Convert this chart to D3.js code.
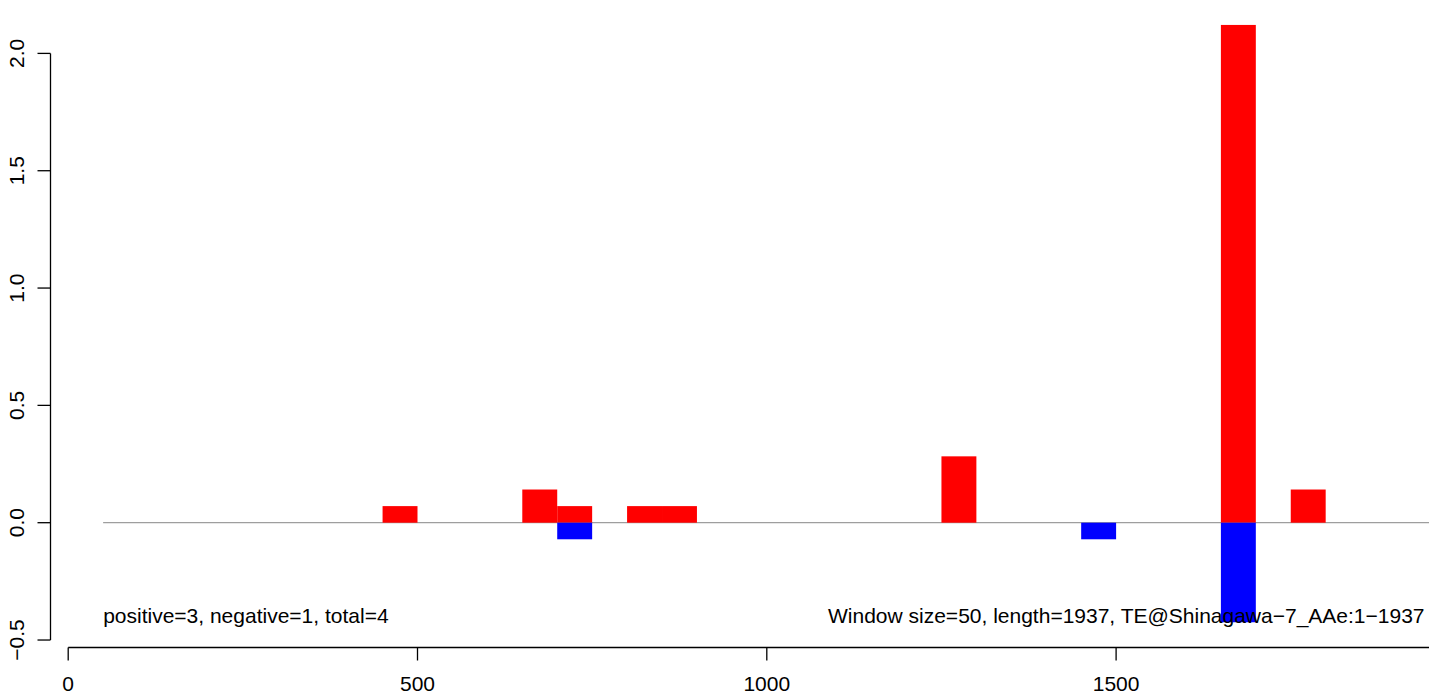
<!DOCTYPE html>
<html>
<head>
<meta charset="utf-8">
<script src="https://cdn.jsdelivr.net/npm/d3@7"></script>
<style>
  html, body { margin: 0; padding: 0; background: #fff; }
  svg { display: block; font-family: "Liberation Sans", Arial, Helvetica, sans-serif; }
</style>
</head>
<body>
<svg id="chart" width="1429" height="692"></svg>
<script>
// Window bins (start position), window size 50
const binStarts = [450, 650, 700, 800, 850, 1250, 1450, 1650, 1750];
const positiveValues = [0.0707, 0.1414, 0.0707, 0.0707, 0.0707, 0.2828, 0, 2.1213, 0.1414];
const negativeValues = [0, 0, -0.0707, 0, 0, 0, -0.0707, -0.4243, 0];
const windowSize = 50;
const seqLength = 1937;
const xTicks = [0, 500, 1000, 1500, 2000];
const yTicks = [-0.5, 0.0, 0.5, 1.0, 1.5, 2.0];
const leftNote = "positive=3, negative=1, total=4";
const rightNote = "Window size=50, length=1937, TE@Shinagawa\u22127_AAe:1\u22121937";

const svg = d3.select("#chart");

const x = d3.scaleLinear().domain([0, 500]).range([68.2, 417.5]);
const y = d3.scaleLinear().domain([0, 2]).range([522.7, 53.4]);

const fmtY = d => (d < 0 ? "\u2212" : "") + Math.abs(d).toFixed(1);
const FS = 21;

// zero line
svg.append("line")
  .attr("x1", x(50)).attr("x2", x(1960))
  .attr("y1", y(0)).attr("y2", y(0))
  .attr("stroke", "#9e9e9e").attr("stroke-width", 1.3);

// bars
const bins = binStarts.map((s, i) => ({s, pos: positiveValues[i], neg: negativeValues[i]}));
svg.append("g").selectAll("rect").data(bins.filter(d => d.pos > 0)).join("rect")
  .attr("x", d => x(d.s)).attr("width", d => x(d.s + windowSize) - x(d.s))
  .attr("y", d => y(d.pos)).attr("height", d => y(0) - y(d.pos))
  .attr("fill", "#ff0000");
svg.append("g").selectAll("rect").data(bins.filter(d => d.neg < 0)).join("rect")
  .attr("x", d => x(d.s)).attr("width", d => x(d.s + windowSize) - x(d.s))
  .attr("y", y(0)).attr("height", d => y(d.neg) - y(0))
  .attr("fill", "#0000ff");

// y axis
const yAxisX = 50.5;
const gy = svg.append("g");
gy.append("line").attr("x1", yAxisX).attr("x2", yAxisX)
  .attr("y1", y(-0.5)).attr("y2", y(2)).attr("stroke", "#000").attr("stroke-width", 1.3);
gy.selectAll("line.t").data(yTicks).join("line")
  .attr("x1", yAxisX - 13).attr("x2", yAxisX)
  .attr("y1", d => y(d)).attr("y2", d => y(d))
  .attr("stroke", "#000").attr("stroke-width", 1.3);
gy.selectAll("text").data(yTicks).join("text")
  .attr("transform", d => `translate(${yAxisX - 27},${y(d)}) rotate(-90)`)
  .attr("text-anchor", "middle")
  .attr("font-size", FS)
  .text(fmtY);

// x axis
const xAxisY = 647.5;
const gx = svg.append("g");
gx.append("line").attr("x1", x(0)).attr("x2", x(2000))
  .attr("y1", xAxisY).attr("y2", xAxisY).attr("stroke", "#000").attr("stroke-width", 1.3);
gx.selectAll("line.t").data(xTicks).join("line")
  .attr("x1", d => x(d)).attr("x2", d => x(d))
  .attr("y1", xAxisY).attr("y2", xAxisY + 13)
  .attr("stroke", "#000").attr("stroke-width", 1.3);
gx.selectAll("text").data(xTicks).join("text")
  .attr("x", d => x(d)).attr("y", 691)
  .attr("text-anchor", "middle")
  .attr("font-size", FS)
  .text(d => d);

// notes (drawn above bars, as in the reference)
svg.append("text").attr("x", x(50)).attr("y", 623)
  .attr("font-size", FS).text(leftNote);
svg.append("text").attr("x", 828).attr("y", 623)
  .attr("font-size", FS).text(rightNote);
</script>
</body>
</html>
